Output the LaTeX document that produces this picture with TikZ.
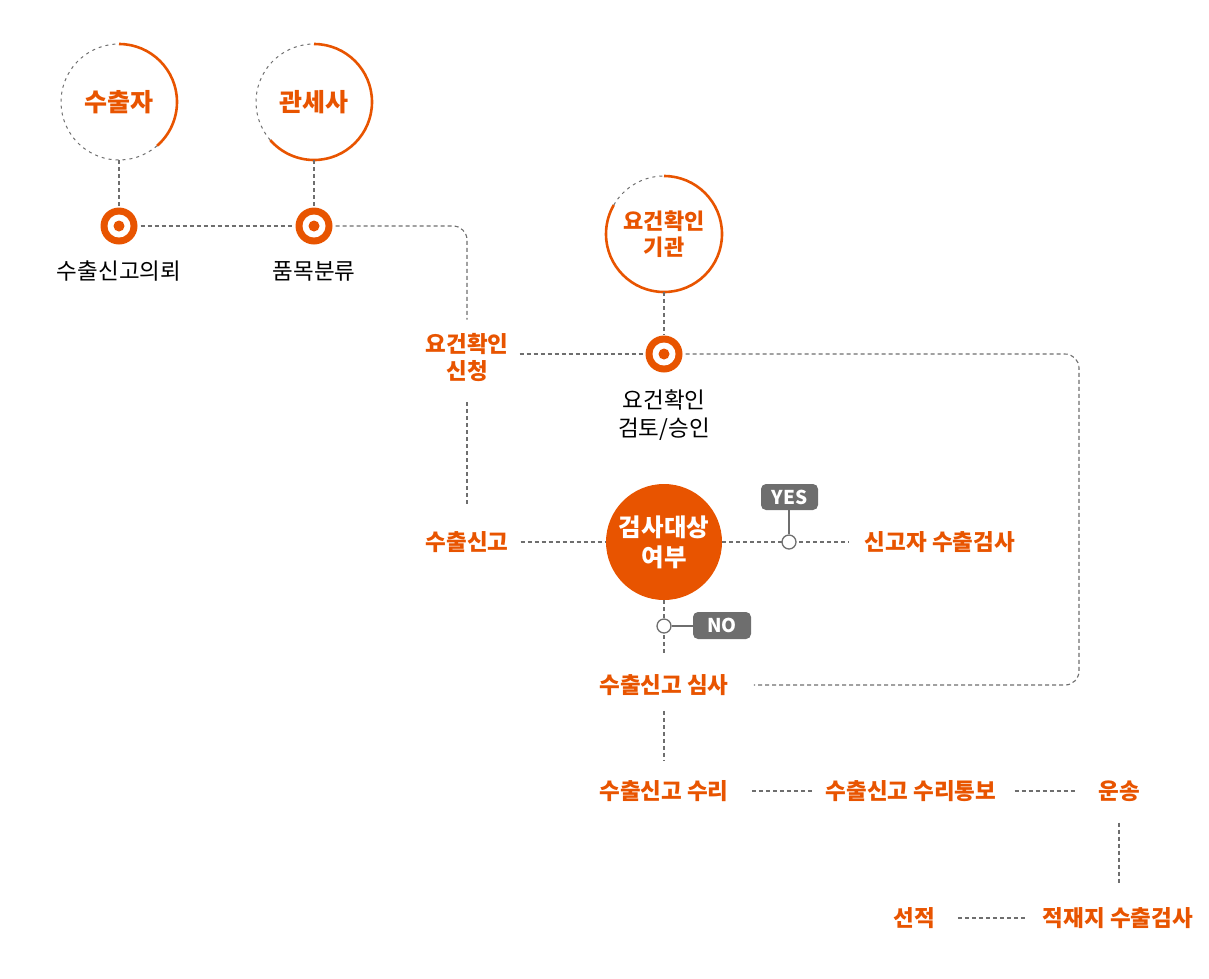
\documentclass[tikz,border=0pt]{standalone}
\usepackage{fontspec}
\setmainfont{Noto Sans CJK KR}
\definecolor{brand}{HTML}{E85400}
\definecolor{dgray}{HTML}{6E6E6E}
\definecolor{badge}{HTML}{6E6E6E}
\tikzset{
 dsh/.style={draw=dgray, line width=1.1pt, dash pattern=on 4pt off 3pt},
 cdsh/.style={draw=dgray, line width=1pt, dash pattern=on 3pt off 4pt},
 oarc/.style={draw=brand, line width=2.6pt},
 olab/.style={text=brand, font=\bfseries\fontsize{22.5}{27}\selectfont, inner sep=0pt, align=center},
 klab/.style={text=black, font=\fontsize{22.5}{28}\selectfont, inner sep=0pt, align=center},
 tgt/.style={circle, fill=brand, minimum size=37pt, inner sep=0pt},
 smallc/.style={circle, draw=dgray, fill=white, line width=1.3pt, minimum size=14pt, inner sep=0pt},
 sline/.style={draw=dgray, line width=1.6pt},
 badgebox/.style={rounded corners=5pt, fill=badge, text=white, font=\bfseries\fontsize{19}{22}\selectfont, minimum width=57pt, minimum height=26pt, inner sep=0pt},
 ring/.style={circle, minimum size=116pt, inner sep=0pt, text=brand, align=center},
}
\begin{document}
\begin{tikzpicture}[x=1pt,y=-1pt]
\useasboundingbox (0,0) rectangle (1209,978);

% ring nodes
\node[ring, font=\bfseries\fontsize{25}{28}\selectfont] (c1) at (119,102) {수출자};
\node[ring, font=\bfseries\fontsize{25}{28}\selectfont] (c2) at (314,102) {관세사};
\node[ring, font=\bfseries\fontsize{22}{26}\selectfont] (c3) at (664,234) {요건확인\\기관};
\draw[oarc] (c1.center) ++(-90:58) arc[start angle=-90, end angle=49, radius=58];
\draw[cdsh] (c1.center) ++(49:58) arc[start angle=49, end angle=270, radius=58];
\draw[oarc] (c2.center) ++(-90:58) arc[start angle=-90, end angle=139, radius=58];
\draw[cdsh] (c2.center) ++(139:58) arc[start angle=139, end angle=270, radius=58];
\draw[oarc] (c3.center) ++(-90:58) arc[start angle=-90, end angle=210, radius=58];
\draw[cdsh] (c3.center) ++(210:58) arc[start angle=210, end angle=270, radius=58];

% targets
\foreach \n/\p in {t1/{(119,226)}, t2/{(314,226)}, t3/{(664,354)}}{
  \node[tgt] (\n) at \p {};
  \fill[white] (\n.center) circle[radius=11.5];
  \fill[brand] (\n.center) circle[radius=5.5];
}

% labels
\node[klab] (l1) at (119,271) {수출신고의뢰};
\node[klab] (l2) at (314,271) {품목분류};
\node[klab] (l3) at (664,415) {요건확인\\검토/승인};
\node[olab] (req) at (467,357) {요건확인\\신청};
\node[olab] (exp) at (467,542) {수출신고};
\node[circle, fill=brand, minimum size=116pt, inner sep=0pt, text=white, align=center,
      font=\bfseries\fontsize{24.5}{30}\selectfont] (dec) at (664,542) {검사대상\\여부};
\node[olab] (self) at (940,542) {신고자 수출검사};
\node[olab] (rev) at (664,685) {수출신고 심사};
\node[olab] (acc) at (664,791) {수출신고 수리};
\node[olab] (notif) at (911,791) {수출신고 수리통보};
\node[olab] (tr) at (1119,791) {운송};
\node[olab] (ship) at (914,918) {선적};
\node[olab] (load) at (1118,918) {적재지 수출검사};

% connectors
\draw[dsh] (c1.south) -- (t1.north);
\draw[dsh] (c2.south) -- (t2.north);
\draw[dsh] (c3.south) -- (t3.north);
\draw[dsh, shorten <=3pt, shorten >=3pt] (t1.east) -- (t2.west);
\draw[dsh, rounded corners=14pt, shorten <=3pt, shorten >=13pt] (t2.east) -| (req.north);
\draw[dsh, shorten <=21pt, shorten >=25pt] (req.south) -- (exp.north);
\draw[dsh, shorten <=11pt, shorten >=1pt] (req.east |- t3) -- (t3.west);
\coordinate (rc) at (1079,520);
\draw[dsh, rounded corners=14pt, shorten <=3pt, shorten >=25pt] (t3.east) -| (rc) |- (rev.east);
\draw[dsh, shorten <=12pt] (exp.east) -- (dec.west);
\draw[dsh, shorten >=16pt] (dec.east) -- (self.west);
\draw[dsh, shorten >=21pt] (dec.south) -- (rev.north);
\draw[dsh, shorten <=15pt, shorten >=20pt] (rev.south) -- (acc.north);
\draw[dsh, shorten <=23pt, shorten >=13pt] (acc.east) -- (notif.west);
\draw[dsh, shorten <=18pt, shorten >=22pt] (notif.east) -- (tr.west);
\draw[dsh, shorten <=21pt, shorten >=23pt] (tr.south) -- (tr.south |- load.north);
\draw[dsh, shorten <=23pt, shorten >=17pt] (ship.east) -- (load.west);

% yes / no
\node[badgebox] (yes) at (789.5,497) {YES};
\node[smallc] (y1) at (789,542) {};
\draw[sline] (y1.north) -- (y1 |- yes.south);
\node[badgebox, minimum width=58pt, minimum height=27pt] (no) at (722,625.5) {NO};
\node[smallc] (n1) at (664,626) {};
\draw[sline] (n1.east) -- (no.west |- n1);
\end{tikzpicture}
\end{document}
